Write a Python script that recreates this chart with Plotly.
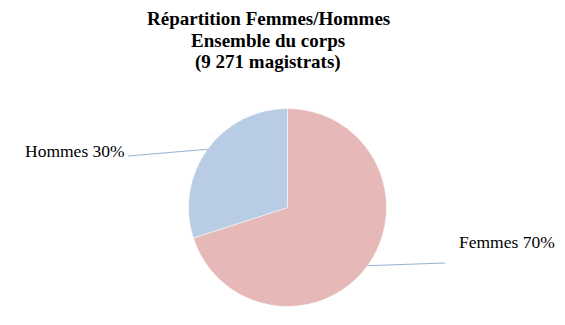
import math
import plotly.graph_objects as go

labels = ["Femmes", "Hommes"]
values = [70, 30]
colors = ["#E6B8B7", "#B8CCE4"]
title_lines = ["Répartition Femmes/Hommes", "Ensemble du corps", "(9 271 magistrats)"]

W, H = 565, 325
cx, cy, r = 287.5, 207.5, 99  # pixel center/radius of pie
FONT = "Liberation Serif"

fig = go.Figure(go.Pie(
    labels=labels, values=values, sort=False, direction="clockwise", rotation=0,
    marker=dict(colors=colors, line=dict(color="white", width=0.5)),
    textinfo="none", hoverinfo="label+percent", showlegend=False,
    domain=dict(x=[(cx - r) / W, (cx + r) / W], y=[1 - (cy + r) / H, 1 - (cy - r) / H]),
))

total = sum(values)
cum = 0
annotations = []
shapes = []
leader = {
    "Femmes": dict(end=(445, 263), text=(457, 241.5), anchor="left"),
    "Hommes": dict(end=(128, 156), text=(127, 150.5), anchor="right"),
}
for lab, v in zip(labels, values):
    mid = (cum + v / 2) / total * 2 * math.pi
    cum += v
    ex = cx + r * math.sin(mid)
    ey = cy - r * math.cos(mid)
    L = leader[lab]
    shapes.append(dict(type="line", xref="paper", yref="paper",
                       x0=ex / W, y0=1 - ey / H, x1=L["end"][0] / W, y1=1 - L["end"][1] / H,
                       line=dict(color="#95B3D7", width=1)))
    pct = round(v / total * 100)
    annotations.append(dict(text=f"{lab} {pct}%", xref="paper", yref="paper",
                            x=L["text"][0] / W, y=1 - L["text"][1] / H,
                            xanchor=L["anchor"], yanchor="middle", showarrow=False,
                            font=dict(family=FONT, size=17.5, color="black")))

for i, line in enumerate(title_lines):
    annotations.append(dict(text=f"<b>{line}</b>", xref="paper", yref="paper",
                            x=268 / W, y=1 - (18.5 + 22 * i) / H, xanchor="center", yanchor="middle",
                            showarrow=False, font=dict(family=FONT, size=19, color="black")))

fig.update_layout(width=W, height=H, margin=dict(l=0, r=0, t=0, b=0),
                  paper_bgcolor="white", plot_bgcolor="white", font=dict(family=FONT),
                  annotations=annotations, shapes=shapes)
fig.write_html("out.html")
